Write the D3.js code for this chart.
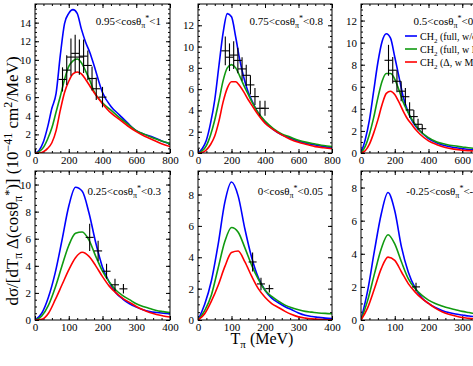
<!DOCTYPE html>
<html lang="en">
<head>
<meta charset="utf-8">
<title>Pion kinetic energy spectra</title>
<script src="https://cdn.jsdelivr.net/npm/d3@7"></script>
<style>
  body { margin: 0; background: white; }
  svg { display: block; overflow: hidden; }
  .axis text { font-family: "Liberation Serif", "DejaVu Serif", serif; font-size: 11px; fill: black; }
  .axis path { display: none; }
  .axis line { stroke: black; stroke-width: 1; }
  .frame { fill: none; stroke: black; stroke-width: 1; }
  .curve { fill: none; stroke-width: 1.6; }
  .point { stroke: black; stroke-width: 1.1; }
  .label { font-family: "Liberation Serif", serif; font-size: 11px; fill: black; }
  .axis-title { font-family: "Liberation Serif", serif; font-size: 16px; fill: black; }
</style>
</head>
<body>
<div id="chart"></div>
<script>

// T_pi grids (MeV) on which the curves were read
var gridTop = [0, 25, 50, 75, 100, 125, 150, 175, 200, 225, 250, 275, 300, 325, 350, 400, 450, 500, 550, 600, 650, 700, 750, 800];
var gridBottom = [0, 20, 40, 60, 80, 100, 120, 140, 160, 180, 200, 220, 240, 260, 280, 300, 320, 340, 360, 380, 400];

// 0.95 < cos < 1
var p1Full   = [0, 0.3, 1.2, 2.8, 4.8, 6.4, 10.5, 13.9, 15.0, 15.4, 15.0, 13.3, 11.9, 10.8, 9.4, 6.5, 5.0, 4.1, 3.2, 2.4, 2.0, 1.7, 1.3, 1.0];
var p1FullMM = [0, 0.15, 0.6, 1.5, 2.7, 4.4, 6.1, 7.9, 9.3, 9.9, 10.1, 9.7, 8.8, 7.8, 6.6, 5.4, 4.6, 3.8, 3.1, 2.4, 2.0, 1.6, 1.3, 1.0];
var p1Delta  = [0, 0, 0.15, 0.5, 1.1, 2.4, 4.6, 6.5, 7.7, 8.5, 8.7, 8.5, 7.9, 7.2, 6.5, 5.3, 4.3, 3.6, 2.9, 2.3, 1.8, 1.4, 1.0, 0.7];
var p1DataT   = [163, 188, 213, 238, 263, 288, 313, 338, 363, 400];
var p1DataV   = [7.9, 8.9, 10.3, 10.7, 10.3, 10.4, 9.4, 8.0, 6.9, 6.0];
var p1DataErr = [1.3, 1.6, 2.0, 2.0, 1.9, 1.8, 1.6, 1.3, 1.2, 1.1];

// 0.75 < cos < 0.8
var p2Full   = [0, 0.4, 1.2, 2.8, 5.0, 8.2, 11.3, 13.1, 12.8, 10.9, 8.7, 7.0, 5.7, 4.8, 4.0, 2.9, 2.2, 1.7, 1.4, 1.1, 0.9, 0.75, 0.6, 0.5];
var p2FullMM = [0, 0.2, 0.7, 1.7, 3.1, 4.9, 6.8, 8.0, 8.3, 8.0, 7.2, 6.3, 5.5, 4.7, 4.0, 3.0, 2.3, 1.8, 1.5, 1.2, 1.0, 0.85, 0.7, 0.6];
var p2Delta  = [0, 0.05, 0.3, 0.8, 1.6, 3.0, 4.8, 6.1, 6.7, 6.7, 6.3, 5.7, 5.0, 4.4, 3.8, 2.8, 2.2, 1.7, 1.3, 1.0, 0.8, 0.6, 0.5, 0.4];
var p2DataT   = [163, 188, 213, 238, 263, 288, 313, 340, 370, 400];
var p2DataV   = [9.6, 9.0, 9.2, 8.7, 7.9, 7.3, 6.4, 5.3, 4.2, 4.2];
var p2DataErr = [1.35, 1.3, 1.3, 1.2, 1.1, 1.0, 0.9, 0.8, 0.7, 0.7];

// 0.5 < cos < 0.55
var p3Full   = [0, 1.2, 3.0, 5.6, 8.2, 10.1, 10.8, 10.4, 8.7, 6.9, 5.1, 3.9, 3.0, 2.4, 2.0, 1.3, 0.9, 0.65, 0.5, 0.4, 0.3, 0.25, 0.2, 0.15];
var p3FullMM = [0, 0.6, 1.7, 3.2, 5.0, 6.5, 7.2, 7.2, 6.7, 5.7, 4.6, 3.8, 3.1, 2.5, 2.0, 1.4, 1.0, 0.8, 0.65, 0.55, 0.45, 0.4, 0.35, 0.3];
var p3Delta  = [0, 0.2, 0.8, 1.8, 3.0, 4.4, 5.4, 5.6, 5.3, 4.6, 3.8, 3.1, 2.6, 2.1, 1.7, 1.1, 0.75, 0.5, 0.35, 0.25, 0.2, 0.15, 0.1, 0.08];
var p3DataT   = [163, 188, 213, 238, 263, 288, 313, 338, 363];
var p3DataV   = [8.4, 7.5, 6.5, 5.6, 5.1, 3.9, 3.3, 2.6, 2.2];
var p3DataErr = [1.4, 1.2, 1.0, 0.9, 0.8, 0.7, 0.6, 0.5, 0.4];

// 0.25 < cos < 0.3
var p4Full   = [0, 0.5, 1.7, 3.5, 5.9, 8.4, 9.8, 9.5, 7.9, 5.7, 3.9, 2.8, 2.0, 1.55, 1.2, 0.95, 0.75, 0.62, 0.55, 0.5, 0.46];
var p4FullMM = [0, 0.3, 1.1, 2.4, 4.0, 5.5, 6.4, 6.5, 5.9, 4.7, 3.6, 2.8, 2.2, 1.8, 1.5, 1.2, 1.0, 0.85, 0.7, 0.62, 0.55];
var p4Delta  = [0, 0.05, 0.5, 1.5, 2.6, 3.7, 4.6, 5.0, 4.7, 4.0, 3.2, 2.5, 2.0, 1.6, 1.3, 1.0, 0.75, 0.55, 0.4, 0.3, 0.22];
var p4DataT   = [162, 187, 212, 237, 262];
var p4DataV   = [6.1, 5.1, 3.6, 2.6, 2.3];
var p4DataErr = [1.0, 0.75, 0.55, 0.45, 0.35];

// 0 < cos < 0.05
var p5Full   = [0, 1.0, 2.5, 4.8, 7.5, 8.8, 7.9, 5.8, 4.0, 2.7, 1.9, 1.4, 1.1, 0.85, 0.65, 0.45, 0.3, 0.22, 0.17, 0.12, 0.1];
var p5FullMM = [0, 0.6, 1.6, 3.3, 5.0, 5.9, 5.6, 4.6, 3.5, 2.6, 1.9, 1.5, 1.2, 0.95, 0.78, 0.65, 0.55, 0.5, 0.45, 0.42, 0.4];
var p5Delta  = [0, 0.4, 1.2, 2.2, 3.4, 4.3, 4.4, 3.7, 2.8, 2.0, 1.45, 1.05, 0.8, 0.55, 0.35, 0.2, 0.12, 0.07, 0.04, 0.02, 0.01];
var p5DataT   = [163, 188, 213];
var p5DataV   = [3.7, 2.3, 2.0];
var p5DataErr = [0.6, 0.4, 0.25];

// -0.25 < cos < -0.2
var p6Full   = [0, 1.8, 4.2, 6.4, 7.7, 6.6, 4.4, 2.9, 1.95, 1.35, 1.0, 0.75, 0.58, 0.45, 0.36, 0.3, 0.24, 0.2, 0.16, 0.13, 0.1];
var p6FullMM = [0, 1.2, 2.8, 4.3, 5.15, 4.6, 3.5, 2.5, 1.9, 1.5, 1.2, 1.0, 0.85, 0.72, 0.62, 0.52, 0.45, 0.38, 0.33, 0.3, 0.27];
var p6Delta  = [0, 0.75, 1.9, 3.1, 3.8, 3.6, 2.9, 2.2, 1.7, 1.3, 1.0, 0.72, 0.5, 0.35, 0.24, 0.15, 0.1, 0.06, 0.04, 0.02, 0.01];
var p6DataT   = [163];
var p6DataV   = [2.0];
var p6DataErr = [0.25];

var xMax = [800, 800, 800, 400, 400, 400];
var yMax = [16, 14, 13.5, 11, 9.5, 9];
var panelLabels = [["0.95<cos", "<1"], ["0.75<cos", "<0.8"], ["0.5<cos", "<0.55"],
                   ["0.25<cos", "<0.3"], ["0<cos", "<0.05"], ["-0.25<cos", "<-0.2"]];
var legendLabels = ["(full, w/o MM)", "(full, w MM)", "(\u0394, w MM)"];
var colors = ["#0000ff", "#109a10", "#ff0000"];

var W = 473, H = 366;
var boxes = [
  {x: 35, y: 4, w: 135, h: 149}, {x: 198, y: 4, w: 134, h: 149}, {x: 361, y: 4, w: 135, h: 149},
  {x: 35, y: 171, w: 135, h: 149}, {x: 198, y: 171, w: 134, h: 149}, {x: 361, y: 171, w: 135, h: 149}
];

var panels = [
  {grid: gridTop, curves: [p1Full, p1FullMM, p1Delta], t: p1DataT, v: p1DataV, e: p1DataErr},
  {grid: gridTop, curves: [p2Full, p2FullMM, p2Delta], t: p2DataT, v: p2DataV, e: p2DataErr},
  {grid: gridTop, curves: [p3Full, p3FullMM, p3Delta], t: p3DataT, v: p3DataV, e: p3DataErr},
  {grid: gridBottom, curves: [p4Full, p4FullMM, p4Delta], t: p4DataT, v: p4DataV, e: p4DataErr},
  {grid: gridBottom, curves: [p5Full, p5FullMM, p5Delta], t: p5DataT, v: p5DataV, e: p5DataErr},
  {grid: gridBottom, curves: [p6Full, p6FullMM, p6Delta], t: p6DataT, v: p6DataV, e: p6DataErr}
];

var svg = d3.select("#chart").append("svg")
  .attr("width", W)
  .attr("height", H);

// text with sub/superscripts: parts are [string, vertical shift, font size]
function rich(sel, parts){
  var cur = 0;
  parts.forEach(function(p){
    var shift = p[1] || 0;
    sel.append("tspan")
       .attr("dy", shift - cur)
       .style("font-size", p[2] ? p[2] + "px" : null)
       .text(p[0]);
    cur = shift;
  });
}

panels.forEach(function(p, i){
  var b = boxes[i];
  var x = d3.scaleLinear().domain([0, xMax[i]]).range([0, b.w]);
  var y = d3.scaleLinear().domain([0, yMax[i]]).range([b.h, 0]);
  var xMajor = xMax[i] / 4, xMinor = xMajor / 4;

  var g = svg.append("g").attr("transform", "translate(" + b.x + "," + b.y + ")");

  g.append("clipPath").attr("id", "clip" + i)
   .append("rect").attr("width", b.w).attr("height", b.h);

  var xMaj = d3.range(0, xMax[i] + 1e-6, xMajor);
  var xMin = d3.range(0, xMax[i] + 1e-6, xMinor);
  var yMaj = d3.range(0, yMax[i] - 1e-6, 2);
  var yMin = d3.range(0, yMax[i] + 1e-6, 0.5);

  // bottom / left with labels, top / right mirrored
  g.append("g").attr("class", "axis").attr("transform", "translate(0," + b.h + ")")
   .call(d3.axisBottom(x).tickValues(xMaj).tickSize(-4).tickPadding(3).tickFormat(d3.format("d")));
  g.append("g").attr("class", "axis").attr("transform", "translate(0," + b.h + ")")
   .call(d3.axisBottom(x).tickValues(xMin).tickSize(-2).tickFormat(""));
  g.append("g").attr("class", "axis")
   .call(d3.axisTop(x).tickValues(xMaj).tickSize(-4).tickFormat(""));
  g.append("g").attr("class", "axis")
   .call(d3.axisTop(x).tickValues(xMin).tickSize(-2).tickFormat(""));

  g.append("g").attr("class", "axis")
   .call(d3.axisLeft(y).tickValues(yMaj).tickSize(-4).tickPadding(4).tickFormat(d3.format("d")));
  g.append("g").attr("class", "axis")
   .call(d3.axisLeft(y).tickValues(yMin).tickSize(-2).tickFormat(""));
  g.append("g").attr("class", "axis").attr("transform", "translate(" + b.w + ",0)")
   .call(d3.axisRight(y).tickValues(yMaj).tickSize(-4).tickFormat(""));
  g.append("g").attr("class", "axis").attr("transform", "translate(" + b.w + ",0)")
   .call(d3.axisRight(y).tickValues(yMin).tickSize(-2).tickFormat(""));

  var line = d3.line()
    .x(function(d, j){ return x(p.grid[j]); })
    .y(function(d){ return y(d); })
    .curve(d3.curveMonotoneX);

  var plot = g.append("g").attr("clip-path", "url(#clip" + i + ")");

  plot.selectAll(".curve")
      .data(p.curves)
      .enter()
      .append("path")
      .attr("class", "curve")
      .attr("d", line)
      .style("stroke", function(d, k){ return colors[k]; });

  var pts = plot.selectAll(".pt")
      .data(p.t)
      .enter()
      .append("g")
      .attr("class", "pt");

  pts.append("line")
     .attr("class", "point")
     .attr("x1", function(d){ return x(d); })
     .attr("x2", function(d){ return x(d); })
     .attr("y1", function(d, j){ return y(p.v[j] - p.e[j]); })
     .attr("y2", function(d, j){ return y(p.v[j] + p.e[j]); });

  pts.append("line")
     .attr("class", "point")
     .attr("x1", function(d){ return x(d) - 4; })
     .attr("x2", function(d){ return x(d) + 4; })
     .attr("y1", function(d, j){ return y(p.v[j]); })
     .attr("y2", function(d, j){ return y(p.v[j]); });

  g.append("rect")
   .attr("class", "frame")
   .attr("width", b.w)
   .attr("height", b.h);

  var lab = g.append("text")
     .attr("class", "label")
     .attr("x", b.w - 9)
     .attr("y", i < 3 ? 21 : 24)
     .style("text-anchor", "end");
  rich(lab, [[panelLabels[i][0] + "\u03b8"], ["\u03c0", 3, 8], ["*", -4, 8], [panelLabels[i][1], 0]]);

  if(i === 2){
    legendLabels.forEach(function(t, k){
      var ly = 32 + k * 13;
      g.append("line")
       .attr("x1", 44).attr("x2", 56)
       .attr("y1", ly).attr("y2", ly)
       .style("stroke", colors[k])
       .style("stroke-width", 1.6);
      var lt = g.append("text")
       .attr("class", "label")
       .attr("x", 59)
       .attr("y", ly + 4)
       .style("font-size", "10px");
      rich(lt, [["CH"], ["2", 3, 7], [" " + t, 0]]);
    });
  }
});

var yt = svg.append("text")
   .attr("class", "axis-title")
   .attr("transform", "rotate(-90)")
   .attr("x", -181)
   .attr("y", 18)
   .style("text-anchor", "middle")
   .style("font-size", "17px");
rich(yt, [["d\u03c3/[dT"], ["\u03c0", 4, 12], [" \u0394(cos\u03b8", 0], ["\u03c0", 4, 12], ["*", -5, 12],
          [")] (10", 0], ["\u221241", -6, 12], [" cm", 0], ["2", -6, 12], ["/MeV)", 0]]);

var xt = svg.append("text")
   .attr("class", "axis-title")
   .attr("x", 262)
   .attr("y", 344)
   .style("text-anchor", "middle");
rich(xt, [["T"], ["\u03c0", 4, 11], [" (MeV)", 0]]);

</script>
</body>
</html>
